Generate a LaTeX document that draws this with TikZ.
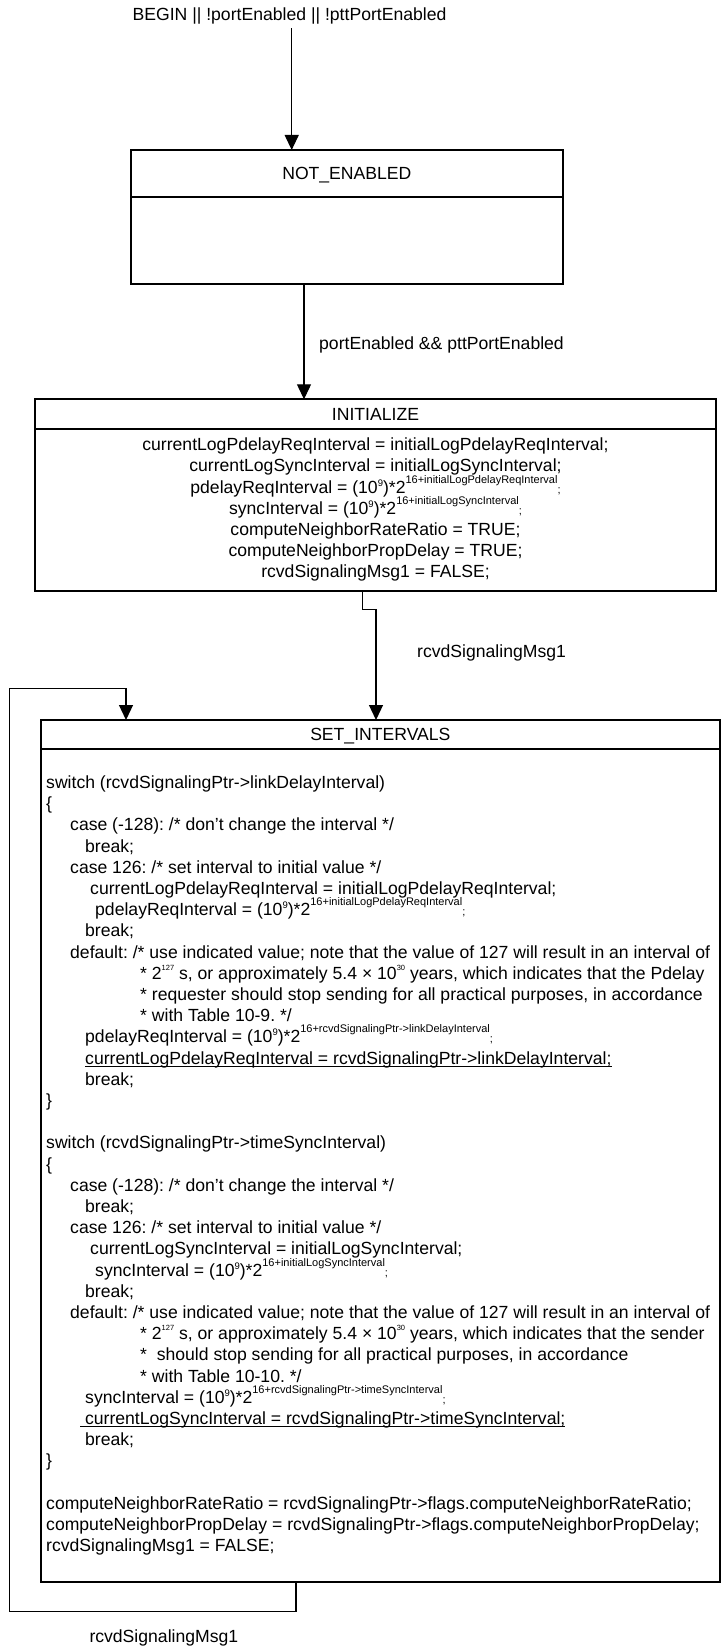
\documentclass[tikz,border=0pt]{standalone}
\usepackage{fontspec}
\setmainfont{Liberation Sans}
\usetikzlibrary{arrows.meta,positioning}

\newcommand\nodefont{\fontsize{17.6}{21.2}\selectfont\frenchspacing\lineskiplimit=-50pt\relax}
\newcommand\supbig[1]{\raisebox{10pt}{\fontsize{11}{11}\selectfont #1}}
\newcommand\supmid[1]{\raisebox{7pt}{\fontsize{9.5}{9.5}\selectfont #1}}
\newcommand\supsml[1]{\raisebox{9pt}{\fontsize{7.5}{7.5}\selectfont #1}}
\newcommand\smsemi{{\fontsize{11}{11}\selectfont ;}}
\newcommand\undl[1]{\setbox0=\hbox{#1}\rlap{\rule[-2.5pt]{\wd0}{0.9pt}}\box0}
\newcommand\tb[1]{\hspace*{#1pt}}

\tikzset{
  sttl/.style={draw, line width=2.2pt, outer sep=0pt, font=\nodefont, text height=12.7pt, text depth=0pt},
  sbody/.style={draw, line width=2.2pt, outer sep=0pt, font=\nodefont},
  lbl/.style={font=\nodefont, inner sep=0pt},
  arr/.style={-{Triangle[length=15pt,width=14pt]}, line width=1.2pt}
}

\begin{document}
\begin{tikzpicture}[x=1pt,y=-1pt]
  \useasboundingbox (0,0) rectangle (721,1648);

  % states
  \node[sttl, minimum width=431.7pt, minimum height=47.3pt] (ne) at (346.85,173.65) {NOT\_ENABLED};
  \node[sbody, minimum width=431.7pt, minimum height=87pt, below=0pt of ne] (ne-b) {};

  \node[sttl, minimum width=681pt, minimum height=29.4pt] (ini) at (375.5,414) {INITIALIZE};
  \node[sbody, minimum width=681pt, minimum height=162pt, below=0pt of ini, align=center] (ini-b) {currentLogPdelayReqInterval = initialLogPdelayReqInterval;\\
    currentLogSyncInterval = initialLogSyncInterval;\\
    pdelayReqInterval = (10\supmid{9})*2\supbig{16+initialLogPdelayReqInterval}\smsemi\\
    syncInterval = (10\supmid{9})*2\supbig{16+initialLogSyncInterval}\smsemi\\
    computeNeighborRateRatio = TRUE;\\
    computeNeighborPropDelay = TRUE;\\
    rcvdSignalingMsg1 = FALSE;};

  \node[sttl, minimum width=679.3pt, minimum height=28.7pt] (si) at (380.35,734.35) {SET\_INTERVALS};
  \node[sbody, minimum width=679.3pt, minimum height=833.6pt, below=0pt of si] (si-b) {};
  \node[lbl, anchor=west, align=left] (si-t) at ([xshift=5.3pt]si-b.west) {switch (rcvdSignalingPtr->linkDelayInterval)\\
    \{\\
    \tb{24}case (-128): /* don’t change the interval */\\
    \tb{39}break;\\
    \tb{24}case 126: /* set interval to initial value */\\
    \tb{44}currentLogPdelayReqInterval = initialLogPdelayReqInterval;\\
    \tb{49}pdelayReqInterval = (10\supmid{9})*2\supbig{16+initialLogPdelayReqInterval}\smsemi\\
    \tb{39}break;\\
    \tb{24}default: /* use indicated value; note that the value of 127 will result in an interval of\\
    \tb{94}* 2\supsml{127} s, or approximately 5.4 × 10\supsml{30} years, which indicates that the Pdelay\\
    \tb{94}* requester should stop sending for all practical purposes, in accordance\\
    \tb{94}* with Table 10-9. */\\
    \tb{39}pdelayReqInterval = (10\supmid{9})*2\supbig{16+rcvdSignalingPtr->linkDelayInterval}\smsemi\\
    \tb{39}\undl{currentLogPdelayReqInterval = rcvdSignalingPtr->linkDelayInterval;}\\
    \tb{39}break;\\
    \}\\
    \mbox{}\\
    switch (rcvdSignalingPtr->timeSyncInterval)\\
    \{\\
    \tb{24}case (-128): /* don’t change the interval */\\
    \tb{39}break;\\
    \tb{24}case 126: /* set interval to initial value */\\
    \tb{44}currentLogSyncInterval = initialLogSyncInterval;\\
    \tb{49}syncInterval = (10\supmid{9})*2\supbig{16+initialLogSyncInterval}\smsemi\\
    \tb{39}break;\\
    \tb{24}default: /* use indicated value; note that the value of 127 will result in an interval of\\
    \tb{94}* 2\supsml{127} s, or approximately 5.4 × 10\supsml{30} years, which indicates that the sender\\
    \tb{94}*\ \ should stop sending for all practical purposes, in accordance\\
    \tb{94}* with Table 10-10. */\\
    \tb{39}syncInterval = (10\supmid{9})*2\supbig{16+rcvdSignalingPtr->timeSyncInterval}\smsemi\\
    \tb{34}\undl{\ currentLogSyncInterval = rcvdSignalingPtr->timeSyncInterval;}\\
    \tb{39}break;\\
    \}\\
    \mbox{}\\
    computeNeighborRateRatio = rcvdSignalingPtr->flags.computeNeighborRateRatio;\\
    computeNeighborPropDelay = rcvdSignalingPtr->flags.computeNeighborPropDelay;\\
    rcvdSignalingMsg1 = FALSE;};

  % transitions
  \node[lbl] (begin) at (289.5,16) {BEGIN || !portEnabled || !pttPortEnabled};
  \coordinate (c0) at (291.7,28.3);
  \draw[arr] (c0) -- (c0 |- ne.north);

  \draw[arr] ([xshift=-42.85pt]ne-b.south) -- node[lbl, right=14.6pt, pos=0.53] (en) {portEnabled \&\& pttPortEnabled} ([xshift=-71.5pt]ini.north);

  \draw[arr] ([xshift=-13pt]ini-b.south) -- ++(0,18.6) -| ([xshift=-4.35pt]si.north);
  \node[lbl, anchor=west] (msg1) at (417,653.2) {rcvdSignalingMsg1};

  \draw[arr] ([xshift=-84.35pt]si-b.south) -- ++(0,29.4) -| ++(-286.7,-923.4) -| ([xshift=-254.35pt]si.north);
  \node[lbl, anchor=west] (msg2) at (89.3,1638.2) {rcvdSignalingMsg1};
\end{tikzpicture}
\end{document}
